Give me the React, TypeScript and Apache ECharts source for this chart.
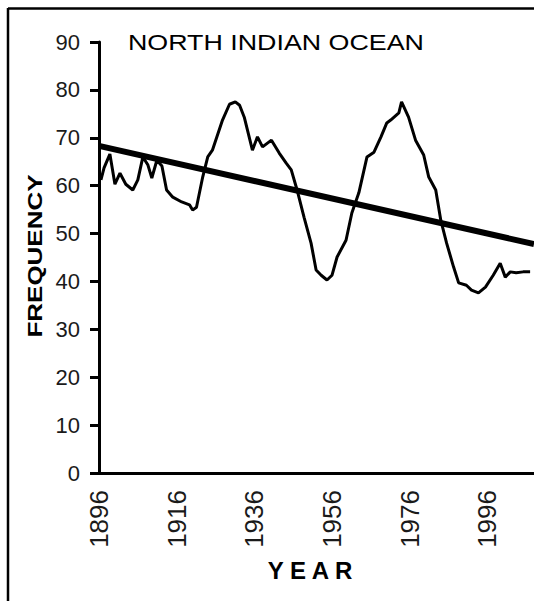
import React, { useEffect, useRef } from "react";
import * as echarts from "echarts";

// Smoothed annual frequency, North Indian Ocean (year, count)
const years = [
  1896.5, 1897.3, 1898.8, 1900.1, 1901.4, 1902.9, 1904.7, 1906.0, 1907.3, 1908.6,
  1909.6, 1910.9, 1912.2, 1913.4, 1915.0, 1917.3, 1919.3, 1920.1, 1921.1, 1922.7,
  1924.0, 1925.2, 1927.8, 1929.6, 1931.1, 1932.2, 1933.4, 1935.5, 1936.8, 1938.1,
  1940.4, 1942.4, 1944.2, 1945.5, 1947.0, 1948.8, 1950.6, 1951.9, 1953.2, 1954.7,
  1956.0, 1957.3, 1959.6, 1961.1, 1962.9, 1965.0, 1966.8, 1968.6, 1970.1, 1971.1,
  1973.2, 1973.9, 1975.7, 1977.5, 1979.6, 1980.9, 1982.7, 1984.0, 1985.5, 1987.3,
  1988.6, 1990.6, 1991.9, 1993.7, 1995.5, 1997.5, 1999.3, 2000.6, 2001.9, 2003.4,
  2005.2, 2007.0,
];
const frequency = [
  61.2, 63.7, 66.6, 60.3, 62.6, 60.3, 59.1, 61.2, 66.0, 64.3,
  61.6, 65.3, 64.1, 59.1, 57.6, 56.6, 56.0, 54.9, 55.5, 61.8,
  66.0, 67.4, 73.7, 77.0, 77.5, 76.8, 74.3, 67.4, 70.2, 68.1,
  69.5, 66.8, 64.7, 63.3, 59.1, 53.4, 48.0, 42.4, 41.3, 40.3,
  41.3, 45.1, 48.6, 54.3, 58.5, 66.0, 67.0, 70.2, 73.1, 73.7,
  75.2, 77.5, 74.3, 69.5, 66.4, 61.8, 59.1, 52.8, 48.0, 43.0,
  39.7, 39.2, 38.2, 37.6, 38.8, 41.3, 43.8, 40.9, 42.0, 41.8,
  42.0, 42.0,
];

// Linear trend end points
const trendYears = [1896, 2008];
const trendValues = [68.3, 47.8];

const yTicks = { min: 0, max: 90, step: 10 };
const xTicks = { min: 1896, max: 2008, step: 20 };

const TEXT = "#1a1a1a";
const FONT = '"Liberation Sans", Arial, sans-serif';

export default function App() {
  const ref = useRef<HTMLDivElement>(null);

  useEffect(() => {
    if (!ref.current) return;
    const chart = echarts.init(ref.current, undefined, { renderer: "svg" });

    const curve = years.map((y, i) => [y, frequency[i]]);
    const trend = trendYears.map((y, i) => [y, trendValues[i]]);

    chart.setOption({
      animation: false,
      backgroundColor: "#ffffff",
      grid: { left: 99, top: 42, width: 437, height: 431 },
      xAxis: {
        type: "value",
        min: xTicks.min,
        max: xTicks.max,
        interval: xTicks.step,
        axisLine: { show: true, lineStyle: { color: "#000", width: 3 } },
        axisTick: { show: false },
        splitLine: { show: false },
        axisLabel: {
          rotate: 90,
          margin: 17,
          showMaxLabel: false,
          color: TEXT,
          fontFamily: FONT,
          fontSize: 26,
          formatter: (v: number) => String(v),
        },
      },
      yAxis: {
        type: "value",
        min: yTicks.min,
        max: yTicks.max,
        interval: yTicks.step,
        axisLine: { show: true, lineStyle: { color: "#000", width: 3 } },
        axisTick: {
          show: true,
          inside: false,
          length: 9,
          lineStyle: { color: "#000", width: 3 },
        },
        splitLine: { show: false },
        axisLabel: {
          margin: 19,
          color: TEXT,
          fontFamily: FONT,
          fontSize: 22,
        },
      },
      series: [
        {
          type: "line",
          data: curve,
          showSymbol: false,
          symbol: "none",
          lineStyle: { color: "#000", width: 3 },
          z: 3,
        },
        {
          type: "line",
          data: trend,
          showSymbol: false,
          symbol: "none",
          lineStyle: { color: "#000", width: 6 },
          z: 2,
        },
      ],
      graphic: [
        // panel frame (top and left edges)
        {
          type: "line",
          shape: { x1: 8, y1: 8.5, x2: 540, y2: 8.5 },
          style: { stroke: "#000", lineWidth: 2.5 },
        },
        {
          type: "line",
          shape: { x1: 8, y1: 8, x2: 8, y2: 610 },
          style: { stroke: "#000", lineWidth: 2.5 },
        },
        {
          type: "text",
          x: 128,
          y: 42,
          scaleX: 1.22,
          style: {
            text: "NORTH INDIAN OCEAN",
            font: `22px ${FONT}`,
            fill: "#000",
            align: "left",
            verticalAlign: "middle",
          },
        },
        {
          type: "text",
          x: 35,
          y: 256,
          rotation: Math.PI / 2,
          scaleX: 1.3,
          style: {
            text: "FREQUENCY",
            font: `bold 20px ${FONT}`,
            fill: "#000",
            align: "center",
            verticalAlign: "middle",
          },
        },
        {
          type: "text",
          x: 310,
          y: 570,
          style: {
            text: "Y E A R",
            font: `bold 24px ${FONT}`,
            fill: "#000",
            align: "center",
            verticalAlign: "middle",
          },
        },
      ],
    });

    return () => chart.dispose();
  }, []);

  return (
    <div
      ref={ref}
      style={{ position: "absolute", left: 0, top: 0, width: 534, height: 601 }}
    />
  );
}
